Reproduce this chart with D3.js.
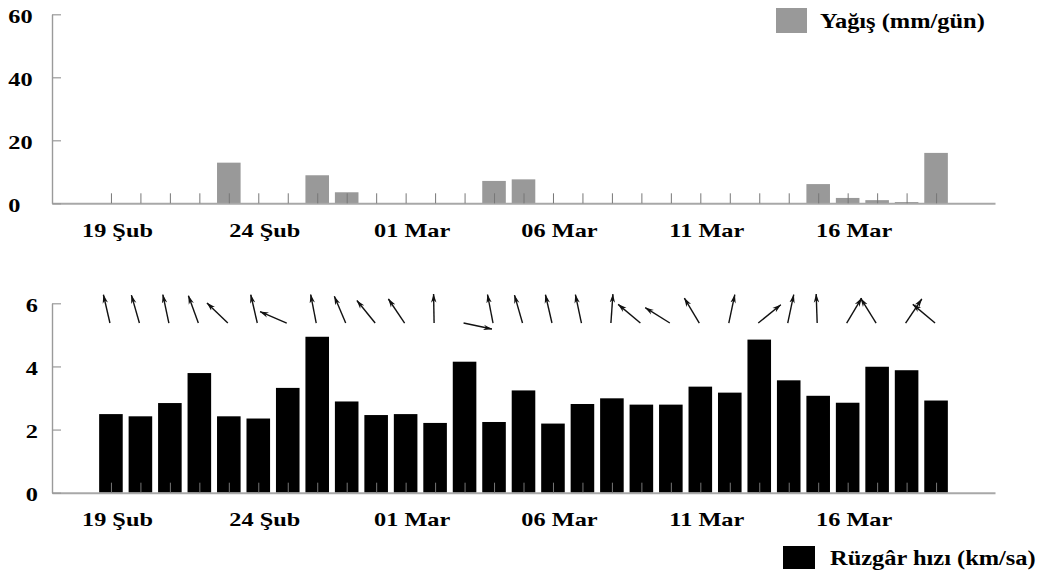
<!DOCTYPE html>
<html>
<head>
<meta charset="utf-8">
<script src="https://cdn.jsdelivr.net/npm/d3@7"></script>
<style>
  html, body { margin: 0; padding: 0; background: #fff; }
  svg { display: block; }
</style>
</head>
<body>
<svg id="chart" width="1043" height="576"></svg>
<script>
// days shown on both panels
const days = [
  '2015-02-19', '2015-02-20', '2015-02-21', '2015-02-22', '2015-02-23',
  '2015-02-24', '2015-02-25', '2015-02-26', '2015-02-27', '2015-02-28',
  '2015-03-01', '2015-03-02', '2015-03-03', '2015-03-04', '2015-03-05',
  '2015-03-06', '2015-03-07', '2015-03-08', '2015-03-09', '2015-03-10',
  '2015-03-11', '2015-03-12', '2015-03-13', '2015-03-14', '2015-03-15',
  '2015-03-16', '2015-03-17', '2015-03-18', '2015-03-19'
];
// daily precipitation, mm/day
const precip = [
  0, 0, 0, 0, 12.9,
  0, 0, 8.9, 3.5, 0,
  0, 0, 0, 7.1, 7.6,
  0, 0, 0, 0, 0,
  0, 0, 0, 0, 6.1,
  1.7, 1.0, 0.4, 16.0
];
// daily mean wind speed, km/h
const windSpeed = [
  2.49, 2.42, 2.84, 3.79, 2.42,
  2.35, 3.32, 4.94, 2.89, 2.46,
  2.49, 2.21, 4.15, 2.24, 3.24,
  2.19, 2.81, 2.99, 2.79, 2.79,
  3.36, 3.17, 4.85, 3.56, 3.07,
  2.85, 3.99, 3.88, 2.92
];
// direction the arrow points to, degrees clockwise from north
const windDir = [
  347, 344, 348, 340, 314,
  347, 293, 349, 337, 321,
  326, 359, 102, 349, 344,
  347, 348, 4, 310, 302,
  329, 12, 51, 12, 358,
  31, 328, 34, 310
];
const xDomain = ['2015-02-17', '2015-03-21'];
const tickLabels = { '2015-02-19': '19 Şub', '2015-02-24': '24 Şub', '2015-03-01': '01 Mar', '2015-03-06': '06 Mar', '2015-03-11': '11 Mar', '2015-03-16': '16 Mar' };
const precipTicks = [0, 20, 40, 60];
const windTicks = [0, 2, 4, 6];
const legendPrecip = 'Yağış (mm/gün)';
const legendWind = 'Rüzgâr hızı (km/sa)';

const FONT = '"Liberation Serif", "Times New Roman", serif';
const parse = d3.utcParse('%Y-%m-%d');
const fmt = d3.utcFormat('%Y-%m-%d');
const dates = days.map(parse);

const svg = d3.select('#chart');
const defs = svg.append('defs');
defs.append('marker')
  .attr('id', 'ah')
  .attr('viewBox', '0 0 10 10')
  .attr('refX', 9.5)
  .attr('refY', 5)
  .attr('markerWidth', 9)
  .attr('markerHeight', 9)
  .attr('markerUnits', 'userSpaceOnUse')
  .attr('orient', 'auto')
  .append('path')
  .attr('d', 'M0,2 L10,5 L0,8 L3,5 Z')
  .attr('fill', '#111');

const x = d3.scaleUtc().domain(xDomain.map(parse)).range([52, 995]);
const dayPx = x(dates[1]) - x(dates[0]);
const barW = dayPx * 0.8;

const yP = d3.scaleLinear().domain([0, 60]).range([203.3, 14.3]);
const yW = d3.scaleLinear().domain([0, 6]).range([492.7, 303.3]);

function styleXAxis(g) {
  g.select('.domain').attr('stroke', '#a8a8a8').attr('stroke-width', 2);
  g.selectAll('.tick line').attr('stroke', '#777').attr('stroke-width', 1);
  g.selectAll('.tick text')
    .attr('y', 20)
    .attr('x', 4.7)
    .attr('transform', 'scale(1.28,1)')
    .attr('fill', '#000')
    .style('font-family', FONT)
    .style('font-weight', 'bold')
    .style('font-size', '19px');
}

function styleYAxis(g, left) {
  g.select('.domain').attr('stroke', '#9a9a9a').attr('stroke-width', 1.4);
  g.selectAll('.tick line').attr('stroke', '#9a9a9a').attr('stroke-width', 1.2);
  g.selectAll('.tick text')
    .attr('x', 0)
    .attr('y', 2)
    .attr('text-anchor', 'start')
    .attr('transform', `translate(${left},0) scale(1.28,1)`)
    .attr('fill', '#000')
    .style('font-family', FONT)
    .style('font-weight', 'bold')
    .style('font-size', '19px');
}

function xAxis() {
  return d3.axisBottom(x)
    .tickValues(dates)
    .tickSizeInner(-10)
    .tickSizeOuter(0)
    .tickFormat(d => tickLabels[fmt(d)] || '');
}

// ---- top panel: precipitation
svg.append('g').selectAll('rect')
  .data(precip.map((v, i) => ({ date: dates[i], v })).filter(d => d.v > 0))
  .join('rect')
  .attr('x', d => x(d.date) - barW / 2)
  .attr('y', d => yP(d.v))
  .attr('width', barW)
  .attr('height', d => yP(0) - yP(d.v))
  .attr('fill', '#999');

svg.append('g')
  .attr('transform', `translate(0,${yP(0)})`)
  .call(xAxis())
  .call(styleXAxis);

svg.append('g')
  .attr('transform', 'translate(52,0)')
  .call(d3.axisLeft(yP).tickValues(precipTicks).tickFormat(d3.format('d')).tickSizeInner(-9).tickSizeOuter(0))
  .call(g => styleYAxis(g, -43.7));

// ---- bottom panel: wind speed
svg.append('g').selectAll('rect')
  .data(windSpeed.map((v, i) => ({ date: dates[i], v })))
  .join('rect')
  .attr('x', d => x(d.date) - barW / 2)
  .attr('y', d => yW(d.v))
  .attr('width', barW)
  .attr('height', d => yW(0) - yW(d.v))
  .attr('fill', '#000');

svg.append('g')
  .attr('transform', `translate(0,${yW(0)})`)
  .call(xAxis())
  .call(styleXAxis);

svg.append('g')
  .attr('transform', 'translate(52,0)')
  .call(d3.axisLeft(yW).tickValues(windTicks).tickFormat(d3.format('d')).tickSizeInner(-9).tickSizeOuter(0))
  .call(g => styleYAxis(g, -26.3));

// wind direction arrows above the bars
const arrowBase = yW(5.375);
const arrowLen = 29;
svg.append('g').selectAll('line')
  .data(windDir.map((a, i) => ({ date: dates[i], a })))
  .join('line')
  .attr('x1', d => x(d.date) - 1)
  .attr('y1', arrowBase)
  .attr('x2', d => x(d.date) - 1 + arrowLen * Math.sin(d.a * Math.PI / 180))
  .attr('y2', d => arrowBase - arrowLen * Math.cos(d.a * Math.PI / 180))
  .attr('stroke', '#111')
  .attr('stroke-width', 1.4)
  .attr('marker-end', 'url(#ah)');

// ---- legends
function legend(rx, ry, rw, rh, color, tx, ty, label) {
  svg.append('rect')
    .attr('x', rx).attr('y', ry)
    .attr('width', rw).attr('height', rh)
    .attr('fill', color);
  svg.append('text')
    .attr('transform', `translate(${tx},${ty}) scale(1.11,1)`)
    .style('font-family', FONT)
    .style('font-weight', 'bold')
    .style('font-size', '22px')
    .attr('fill', '#000')
    .text(label);
}
legend(776, 8, 31, 25, '#999', 820, 28.3, legendPrecip);
legend(783, 546, 32, 23, '#000', 830, 565.3, legendWind);
</script>
</body>
</html>
